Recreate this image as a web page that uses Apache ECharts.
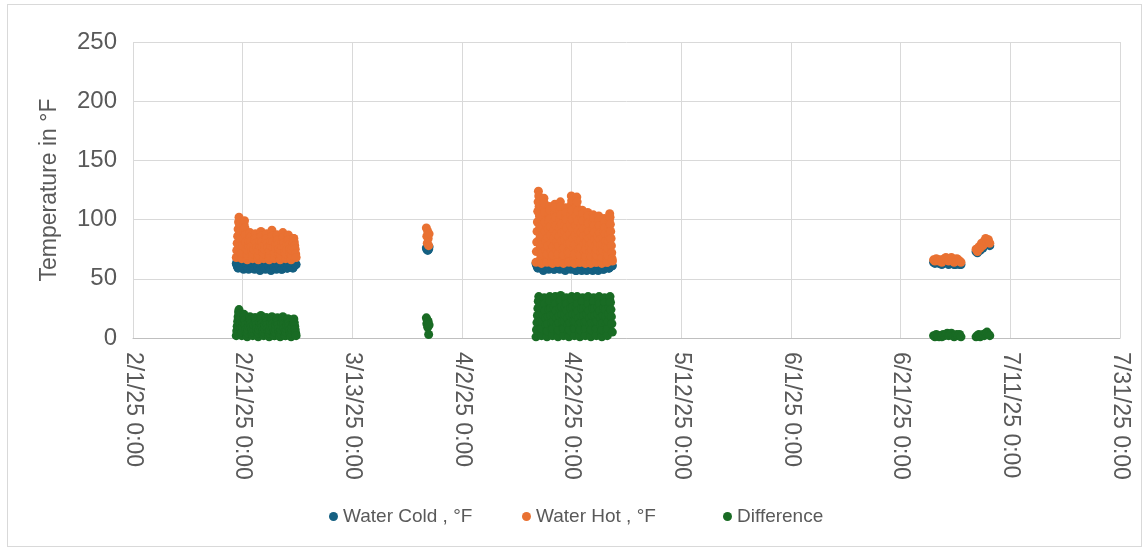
<!DOCTYPE html>
<html>
<head>
<meta charset="utf-8">
<script src="https://cdn.jsdelivr.net/npm/echarts@6/dist/echarts.min.js"></script>
<style>
  html, body { margin: 0; padding: 0; background: #ffffff; }
  #frame { position: absolute; left: 7px; top: 4px; width: 1135px; height: 543px; border: 1px solid #d9d9d9; box-sizing: border-box; }
  #chart { position: absolute; left: 0; top: 0; width: 1144px; height: 550px; }
</style>
</head>
<body>
<div id="frame"></div>
<div id="chart"></div>
<script>
// ---- Axis ticks ----
const X_ORIGIN = Date.UTC(2025, 1, 1); // 2/1/25 0:00; x values are days since this
const xTickLabels = ['2/1/25 0:00', '2/21/25 0:00', '3/13/25 0:00', '4/2/25 0:00', '4/22/25 0:00',
                     '5/12/25 0:00', '6/1/25 0:00', '6/21/25 0:00', '7/11/25 0:00', '7/31/25 0:00'];
const yTicks = [0, 50, 100, 150, 200, 250];
const seriesNames = ['Water Cold , °F', 'Water Hot , °F', 'Difference'];

// ---- Cluster 1: late February, 2-hour readings (one row = one day) ----
const febStart = '2025-02-19T20:00:00Z';
const febStepHours = 2;
const febHot = [
  68, 74, 80, 86, 92, 98, 102, 96, 90, 84, 78, 71,
  67, 72, 78, 84, 90, 96, 99, 93, 87, 81, 75, 70,
  66, 70, 74, 78, 82, 86, 89, 85, 81, 77, 73, 69,
  67, 71, 75, 79, 83, 87, 88, 84, 80, 76, 72, 68,
  66, 70, 74, 78, 82, 86, 90, 86, 81, 77, 72, 68,
  67, 71, 75, 79, 83, 87, 88, 84, 80, 76, 72, 69,
  66, 70, 74, 78, 82, 86, 91, 86, 81, 76, 71, 67,
  68, 72, 76, 80, 84, 87, 87, 83, 79, 75, 71, 67,
  66, 70, 74, 78, 82, 85, 89, 85, 80, 76, 72, 68,
  67, 71, 75, 79, 83, 86, 87, 83, 79, 75, 71, 67,
  66, 70, 74, 78, 81, 84, 84, 81, 78, 75, 71, 68];
const febCold = [
  63, 62, 61, 60, 59, 60, 61, 62, 63, 62, 61, 60,
  62, 61, 60, 59, 58, 59, 60, 61, 62, 63, 62, 61,
  61, 60, 59, 58, 59, 60, 61, 62, 63, 62, 61, 60,
  62, 61, 60, 59, 58, 59, 60, 61, 62, 62, 61, 60,
  61, 60, 59, 58, 57, 58, 59, 60, 61, 62, 61, 60,
  62, 61, 60, 59, 58, 59, 60, 61, 62, 63, 62, 61,
  61, 60, 59, 58, 57, 58, 59, 60, 61, 62, 61, 60,
  62, 61, 60, 59, 58, 59, 60, 61, 62, 62, 61, 60,
  61, 60, 59, 58, 58, 59, 60, 61, 62, 63, 62, 61,
  62, 61, 60, 59, 59, 60, 61, 62, 63, 62, 61, 61,
  62, 61, 60, 60, 59, 60, 61, 62, 63, 63, 62, 62];
const febDiff = [
  2, 6, 10, 14, 18, 22, 24, 20, 16, 12, 8, 4,
  2, 5, 9, 13, 17, 20, 18, 15, 11, 7, 4, 2,
  1, 4, 7, 10, 13, 16, 18, 15, 12, 9, 6, 3,
  2, 5, 8, 11, 14, 17, 17, 14, 11, 8, 5, 2,
  1, 4, 7, 10, 13, 16, 19, 16, 12, 9, 6, 3,
  2, 5, 8, 11, 14, 17, 17, 14, 11, 8, 5, 2,
  1, 4, 7, 10, 13, 16, 18, 15, 12, 9, 5, 2,
  2, 5, 8, 11, 14, 16, 17, 14, 11, 8, 5, 2,
  1, 4, 7, 10, 13, 16, 18, 15, 12, 8, 5, 2,
  2, 5, 8, 11, 14, 16, 16, 13, 10, 7, 4, 2,
  1, 4, 7, 10, 13, 15, 16, 13, 10, 7, 4, 2];

// ---- Cluster 2: March 26, 2-hour readings ----
const marStart = '2025-03-26T12:00:00Z';
const marStepHours = 2;
const marHot = [93, 86, 80, 90, 84, 78, 88];
const marCold = [76, 75, 77, 74, 76, 75, 77];
const marDiff = [17, 12, 15, 9, 14, 3, 11];

// ---- Cluster 3: mid/late April ----
const aprStart = '2025-04-15T12:00:00Z';
// hot water logged every 1.5 hours (one row = one day)
const aprHotStepHours = 1.5;
const aprHot = [
  64, 73, 81, 90, 98, 107, 115, 124, 120, 111, 103, 94, 85, 77, 68, 66,
  63, 71, 79, 87, 95, 103, 111, 118, 114, 106, 98, 90, 82, 74, 67, 65,
  64, 71, 78, 85, 92, 99, 105, 111, 108, 101, 94, 87, 80, 73, 67, 65,
  63, 70, 77, 84, 91, 98, 106, 113, 110, 102, 95, 88, 81, 74, 67, 64,
  64, 71, 78, 86, 93, 100, 108, 115, 111, 104, 96, 89, 82, 75, 68, 65,
  63, 70, 76, 83, 90, 96, 103, 110, 106, 100, 93, 86, 80, 73, 67, 65,
  64, 72, 80, 88, 96, 104, 112, 120, 116, 108, 100, 92, 84, 76, 68, 65,
  63, 71, 79, 87, 95, 103, 111, 119, 115, 107, 99, 91, 83, 75, 67, 64,
  64, 70, 76, 83, 89, 95, 102, 108, 105, 99, 92, 86, 80, 73, 67, 65,
  63, 69, 75, 81, 87, 93, 100, 106, 103, 97, 90, 84, 78, 72, 66, 64,
  63, 69, 75, 80, 86, 92, 98, 104, 101, 95, 89, 83, 77, 71, 66, 64,
  64, 70, 75, 81, 86, 92, 97, 103, 100, 95, 89, 83, 78, 72, 67, 65,
  63, 68, 74, 79, 85, 90, 96, 101, 98, 93, 88, 82, 77, 71, 66, 64,
  64, 70, 76, 82, 87, 93, 99, 105, 102, 96, 90, 84, 78, 72, 67, 65];
// cold water and difference logged every 2 hours (one row = one day)
const aprStepHours = 2;
const aprCold = [
  63, 62, 61, 60, 59, 60, 61, 62, 63, 62, 61, 60,
  61, 60, 59, 58, 57, 58, 59, 60, 61, 62, 61, 60,
  62, 61, 60, 59, 58, 59, 60, 61, 62, 62, 61, 60,
  61, 60, 59, 58, 58, 59, 60, 61, 62, 63, 62, 61,
  62, 61, 60, 59, 58, 59, 60, 61, 62, 62, 61, 60,
  61, 60, 59, 58, 57, 58, 59, 60, 61, 62, 61, 60,
  62, 61, 60, 59, 58, 59, 60, 61, 62, 62, 61, 60,
  60, 59, 58, 57, 57, 58, 59, 60, 61, 62, 61, 60,
  61, 60, 59, 58, 57, 58, 59, 60, 61, 61, 60, 59,
  60, 59, 58, 57, 58, 59, 60, 61, 62, 61, 60, 59,
  61, 60, 59, 58, 57, 58, 59, 60, 61, 61, 60, 59,
  60, 59, 58, 58, 57, 58, 59, 60, 61, 62, 61, 60,
  61, 60, 59, 58, 58, 59, 60, 61, 62, 62, 61, 60,
  62, 61, 60, 59, 59, 60, 61, 62, 63, 62, 61, 61];
const aprDiff = [
  1, 7, 13, 19, 25, 31, 35, 32, 26, 20, 14, 8,
  2, 8, 14, 20, 26, 32, 34, 29, 23, 17, 11, 5,
  1, 6, 12, 18, 24, 30, 35, 31, 25, 19, 13, 7,
  2, 8, 14, 20, 26, 32, 35, 29, 23, 17, 11, 5,
  1, 7, 13, 19, 25, 31, 36, 32, 26, 20, 14, 8,
  2, 8, 14, 20, 26, 31, 34, 29, 23, 17, 11, 5,
  1, 7, 13, 19, 25, 31, 35, 32, 26, 20, 14, 8,
  2, 8, 14, 20, 26, 32, 35, 29, 23, 17, 11, 5,
  1, 7, 13, 19, 25, 31, 34, 31, 25, 19, 13, 7,
  2, 8, 14, 20, 26, 32, 35, 29, 23, 17, 11, 5,
  1, 7, 13, 19, 25, 31, 34, 31, 25, 19, 13, 7,
  2, 8, 14, 20, 26, 32, 35, 29, 23, 17, 11, 5,
  1, 7, 13, 19, 25, 31, 34, 30, 24, 18, 12, 6,
  2, 8, 14, 20, 26, 32, 35, 30, 24, 18, 12, 5];

// ---- Cluster 4a: late June, 6-hour readings ----
const junStart = '2025-06-27T00:00:00Z';
const junStepHours = 6;
const junHot = [66, 65, 67, 66, 65, 66, 64, 66, 67, 68, 66, 65, 67, 68, 66, 64, 65, 67, 66, 65, 64];
const junCold = [64, 63, 65, 64, 63, 64, 62, 63, 64, 65, 64, 62, 64, 65, 63, 62, 62, 64, 63, 62, 62];
const junDiff = [2, 1, 3, 2, 1, 2, 1, 3, 2, 3, 4, 2, 3, 4, 2, 1, 2, 3, 2, 3, 1];

// ---- Cluster 4b: early July, 6-hour readings ----
const julStart = '2025-07-04T18:00:00Z';
const julStepHours = 6;
const julHot = [75, 73, 77, 76, 80, 78, 82, 84, 81, 83, 80];
const julCold = [73, 72, 75, 74, 78, 76, 80, 82, 79, 81, 78];
const julDiff = [1, 2, 3, 1, 2, 3, 2, 4, 5, 3, 2];

// ---- Build points: x = days since 2/1/25 ----
function pts(start, stepHours, values) {
  const t0 = (Date.parse(start) - X_ORIGIN) / 86400000;
  return values.map((v, i) => [t0 + i * stepHours / 24, v]);
}
const coldData = [].concat(
  pts(febStart, febStepHours, febCold), pts(marStart, marStepHours, marCold),
  pts(aprStart, aprStepHours, aprCold), pts(junStart, junStepHours, junCold),
  pts(julStart, julStepHours, julCold));
const hotData = [].concat(
  pts(febStart, febStepHours, febHot), pts(marStart, marStepHours, marHot),
  pts(aprStart, aprHotStepHours, aprHot), pts(junStart, junStepHours, junHot),
  pts(julStart, julStepHours, julHot));
const diffData = [].concat(
  pts(febStart, febStepHours, febDiff), pts(marStart, marStepHours, marDiff),
  pts(aprStart, aprStepHours, aprDiff), pts(junStart, junStepHours, junDiff),
  pts(julStart, julStepHours, julDiff));

const colors = ['#156082', '#E97132', '#196B24'];
const FONT = '"Liberation Sans", Arial, sans-serif';
const TXT = '#595959';
const legendLefts = [324, 517, 718];

const chart = echarts.init(document.getElementById('chart'), null, { renderer: 'canvas' });
chart.setOption({
  animation: false,
  color: colors,
  textStyle: { fontFamily: FONT },
  grid: { left: 133, right: 24, top: 42, bottom: 212, containLabel: false },
  legend: seriesNames.map((n, i) => ({
    bottom: 19,
    left: legendLefts[i],
    icon: 'circle',
    itemWidth: 9,
    itemHeight: 9,
    itemGap: 5,
    textStyle: { fontFamily: FONT, fontSize: 19, color: TXT },
    data: [n]
  })),
  xAxis: {
    type: 'value',
    min: 0, max: 180, interval: 20,
    axisLine: { show: true, lineStyle: { color: '#bfbfbf', width: 1 } },
    axisTick: { show: false },
    splitLine: { show: true, lineStyle: { color: '#d9d9d9', width: 1 } },
    axisLabel: {
      rotate: -90,
      margin: 14,
      fontFamily: FONT, fontSize: 23, color: TXT,
      formatter: v => xTickLabels[Math.round(v / 20)]
    }
  },
  yAxis: {
    type: 'value',
    min: yTicks[0], max: yTicks[yTicks.length - 1], interval: 50,
    name: 'Temperature in °F',
    nameLocation: 'middle',
    nameGap: 72,
    nameTextStyle: { fontFamily: FONT, fontSize: 23, color: TXT },
    axisLine: { show: false },
    axisTick: { show: false },
    splitLine: { show: true, lineStyle: { color: '#d9d9d9', width: 1 } },
    axisLabel: { margin: 16, fontFamily: FONT, fontSize: 24, color: TXT }
  },
  series: [
    { name: seriesNames[0], type: 'scatter', symbol: 'circle', symbolSize: 9, data: coldData, itemStyle: { color: colors[0], opacity: 1 } },
    { name: seriesNames[1], type: 'scatter', symbol: 'circle', symbolSize: 9, data: hotData, itemStyle: { color: colors[1], opacity: 1 } },
    { name: seriesNames[2], type: 'scatter', symbol: 'circle', symbolSize: 9, data: diffData, itemStyle: { color: colors[2], opacity: 1 } }
  ]
});
</script>
</body>
</html>
